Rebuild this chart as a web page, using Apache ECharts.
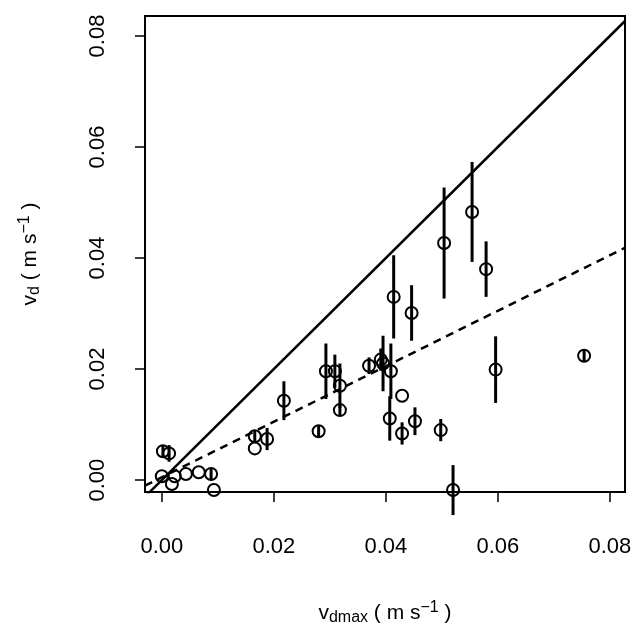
<!DOCTYPE html>
<html>
<head>
<meta charset="utf-8">
<script src="https://cdn.jsdelivr.net/npm/echarts@6/dist/echarts.min.js"></script>
</head>
<body style="margin:0">
<div id="container" style="width:637px;height:631px"></div>
<script>
// measured values (m s-1)
var vdmax = [0, 0.0002, 0.0013, 0.0018, 0.0023, 0.0043, 0.0066, 0.0088, 0.0093, 0.0166, 0.0166, 0.0188, 0.0218,
    0.028, 0.0293, 0.0309, 0.0318, 0.0318, 0.037, 0.0391, 0.0395, 0.0409, 0.0407, 0.0414, 0.0429, 0.0429,
    0.0446, 0.0452, 0.0498, 0.0504, 0.052, 0.0554, 0.0579, 0.0596, 0.0754];
var vd = [0.0007, 0.0052, 0.0048, -0.0007, 0.0007, 0.0011, 0.0014, 0.0011, -0.0018, 0.0079, 0.0057, 0.0074, 0.0143,
    0.0088, 0.0196, 0.0196, 0.017, 0.0126, 0.0206, 0.0217, 0.021, 0.0196, 0.0111, 0.033, 0.0152, 0.0084,
    0.0301, 0.0106, 0.009, 0.0427, -0.0018, 0.0483, 0.038, 0.0199, 0.0224];
var vdErr = [0, 0.001, 0.0015, 0, 0, 0, 0, 0.001, 0, 0.001, 0, 0.002, 0.0035,
    0.001, 0.005, 0.003, 0.004, 0.001, 0.0015, 0.002, 0.005, 0.005, 0.004, 0.0075, 0, 0.002,
    0.005, 0.0025, 0.002, 0.01, 0.0045, 0.009, 0.005, 0.006, 0.001];
var ticks = [0, 0.02, 0.04, 0.06, 0.08];
var fitSlope = 0.5, fitIntercept = 0.0005;

var pts = vdmax.map(function (x, i) { return [x, vd[i]]; });
var bars = vdmax.map(function (x, i) { return [x, vd[i] - vdErr[i], vd[i] + vdErr[i]]; });
var xmin = -0.003, xmax = 0.0827, ymin = -0.00215, ymax = 0.0836;
var fmt = function (v) { return v.toFixed(2); };
var rich = {
    n: {fontSize: 21, fontFamily: 'Liberation Sans', color: '#000'},
    s: {fontSize: 16, fontFamily: 'Liberation Sans', color: '#000', verticalAlign: 'bottom', padding: [8, 0, 0, 0]},
    p: {fontSize: 16, fontFamily: 'Liberation Sans', color: '#000', verticalAlign: 'top', padding: [0, 0, 10, 0]}
};

var myChart = echarts.init(document.getElementById('container'));
var option = {
    animation: false,
    grid: {left: 145, right: 12, top: 16, bottom: 137, show: true, borderColor: '#000', borderWidth: 2},
    xAxis: {
        type: 'value', min: xmin, max: xmax, splitLine: {show: false},
        axisLine: {show: true, onZero: false, lineStyle: {color: '#000', width: 2}},
        axisTick: {show: true, inside: false, length: 10, customValues: ticks, lineStyle: {color: '#000', width: 1.5}},
        axisLabel: {customValues: ticks, formatter: fmt, color: '#000', fontSize: 22, margin: 44, fontFamily: 'Liberation Sans'},
        name: '{n|v}{s|dmax}{n| ( m s}{p|−1}{n| )}', nameLocation: 'middle', nameGap: 108,
        nameTextStyle: {rich: rich}
    },
    yAxis: {
        type: 'value', min: ymin, max: ymax, splitLine: {show: false},
        axisLine: {show: true, onZero: false, lineStyle: {color: '#000', width: 2}},
        axisTick: {show: true, inside: false, length: 10, customValues: ticks, lineStyle: {color: '#000', width: 1.5}},
        axisLabel: {customValues: ticks, formatter: fmt, color: '#000', fontSize: 22, rotate: 90, margin: 36, fontFamily: 'Liberation Sans'},
        name: '{n|v}{s|d}{n| ( m s}{p|−1}{n| )}', nameLocation: 'middle', nameGap: 102,
        nameTextStyle: {rich: rich}
    },
    series: [
        {
            type: 'line', data: [[xmin, xmin], [xmax, xmax]], symbol: 'none', silent: true,
            lineStyle: {color: '#000', width: 2.5}, clip: true
        },
        {
            type: 'line', data: [[xmin, fitIntercept + fitSlope * xmin], [xmax, fitIntercept + fitSlope * xmax]],
            symbol: 'none', silent: true, lineStyle: {color: '#000', width: 2.5, type: [8, 6]}, clip: true
        },
        {
            type: 'custom', data: bars,
            renderItem: function (params, api) {
                var a = api.coord([api.value(0), api.value(1)]);
                var b = api.coord([api.value(0), api.value(2)]);
                return {type: 'line', shape: {x1: a[0], y1: a[1], x2: b[0], y2: b[1]}, style: {stroke: '#000', lineWidth: 3}};
            }
        },
        {
            type: 'scatter', data: pts, symbol: 'circle', symbolSize: 12,
            itemStyle: {color: 'rgba(0,0,0,0)', borderColor: '#000', borderWidth: 2, opacity: 1}
        }
    ]
};
myChart.setOption(option);
</script>
</body>
</html>
